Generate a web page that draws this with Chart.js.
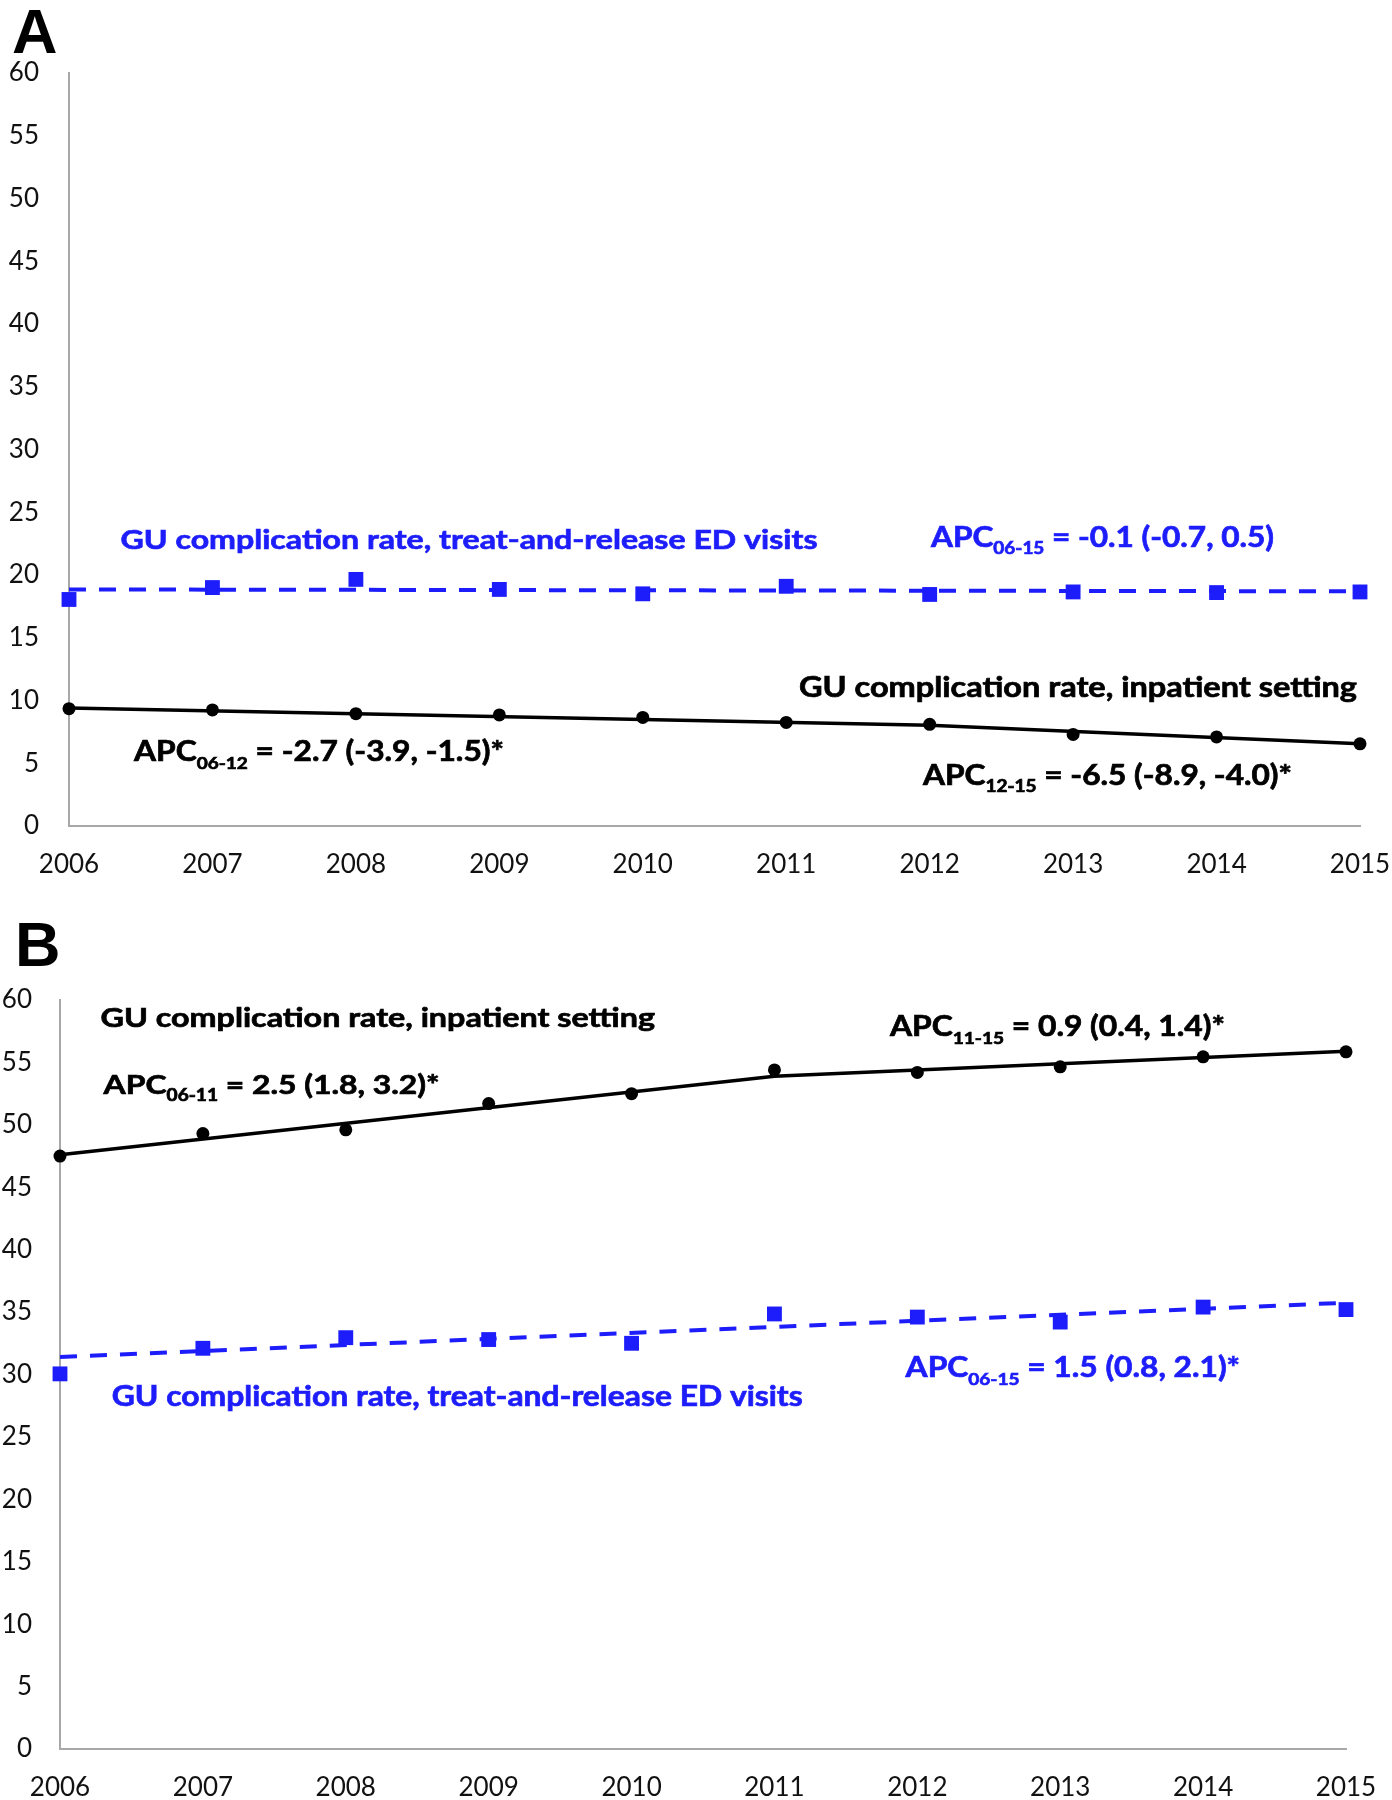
<!DOCTYPE html>
<html><head><meta charset="utf-8">
<script src="https://cdn.jsdelivr.net/npm/chart.js@4.4.1/dist/chart.umd.min.js"></script>
<style>
html,body{margin:0;padding:0;background:#fff;}
#wrap{position:relative;width:1392px;height:1800px;overflow:hidden;background:#fff;}
.box{position:absolute;left:0;width:1392px;height:900px;}
</style></head><body>
<div id="wrap">
<div class="box" style="top:0"><canvas id="cA"></canvas></div>
<div class="box" style="top:900px"><canvas id="cB"></canvas></div>
</div>
<script>
// ---------- data ----------
const years = ['2006','2007','2008','2009','2010','2011','2012','2013','2014','2015'];
const yTicks = [0,5,10,15,20,25,30,35,40,45,50,55,60];

// Panel A
const aEDRate        = [18.05, 19.0, 19.65, 18.85, 18.5, 19.1, 18.45, 18.65, 18.6, 18.65];
const aEDTrend       = [18.85, null, null, null, null, null, null, null, null, 18.7];
const aInpatientRate = [9.35, 9.25, 8.95, 8.85, 8.65, 8.25, 8.1, 7.3, 7.1, 6.55];
const aInpatientTrend= [9.4, null, null, null, null, null, 8.03, null, null, 6.55];

// Panel B
const bEDRate        = [30.05, 32.1, 32.95, 32.8, 32.5, 34.85, 34.6, 34.2, 35.4, 35.2];
const bEDTrend       = [31.4, null, null, null, null, null, null, null, null, 35.75];
const bInpatientRate = [47.5, 49.3, 49.6, 51.7, 52.5, 54.4, 54.2, 54.65, 55.45, 55.85];
const bInpatientTrend= [47.6, null, null, null, null, 53.9, null, null, null, 55.9];

// ---------- styles ----------
const BLUE = '#1d1dfb';
const BLACK = '#000000';
const AXIS = '#a8a8a8';
const TICK_FONT = {family:'Lato', size:26};
const SUB = 0.6, CAP = 0.717;

const notesPlugin = {
  id:'notes',
  afterDraw(chart, args, opts){
    const ctx = chart.ctx;
    ctx.save();
    ctx.textBaseline = 'alphabetic';
    ctx.textAlign = 'left';
    (opts.items||[]).forEach(it => {
      const fam = it.family || 'Lato';
      const capH = it.cap || CAP;
      const size = it.capPx ? it.capPx / capH : it.size;
      let w = 0;
      it.parts.forEach(p => {
        ctx.font = `bold ${p[1] ? size*SUB : size}px "${fam}"`;
        w += ctx.measureText(p[0]).width;
      });
      const sx = it.w ? it.w / w : 1;
      const baseline = it.y + size*capH/2;
      ctx.save();
      ctx.translate(it.x, 0);
      ctx.scale(sx, 1);
      let x = 0;
      ctx.fillStyle = it.color;
      ctx.strokeStyle = it.color;
      ctx.lineWidth = it.stroke || 0;
      it.parts.forEach(p => {
        const s = p[1] ? size*SUB : size;
        ctx.font = `bold ${s}px "${fam}"`;
        const yy = p[1] ? baseline + size*0.26 : baseline;
        ctx.fillText(p[0], x, yy);
        if (it.stroke) ctx.strokeText(p[0], x, yy);
        x += ctx.measureText(p[0]).width;
      });
      ctx.restore();
    });
    ctx.restore();
  }
};

function makeChart(id, cfg){
  const ds = [
    {data: cfg.ed, showLine:false, pointStyle:'rect', pointRadius:10.5, pointBackgroundColor:BLUE, pointBorderWidth:0, borderColor:BLUE, clip:false},
    {data: cfg.inp, showLine:false, pointStyle:'circle', pointRadius:6.5, pointBackgroundColor:BLACK, pointBorderWidth:0, borderColor:BLACK, clip:false},
    {data: cfg.edTrend, spanGaps:true, pointRadius:0, borderColor:BLUE, borderWidth:4, borderDash:[17,13], tension:0, clip:false},
    {data: cfg.inpTrend, spanGaps:true, pointRadius:0, borderColor:BLACK, borderWidth:3.5, tension:0, clip:false}
  ];
  return new Chart(document.getElementById(id), {
    type:'line',
    data:{labels: years, datasets: ds},
    options:{
      responsive:true, maintainAspectRatio:false, animation:false, events:[],
      layout:{padding:{top:cfg.top, right:cfg.right, left:0, bottom:0}},
      plugins:{legend:{display:false}, tooltip:{enabled:false}, notes:{items:cfg.notes}},
      scales:{
        x:{type:'category', offset:false,
           grid:{display:false, drawTicks:false},
           border:{display:true, color:AXIS, width:2},
           ticks:{font:TICK_FONT, color:'#111', padding:23, maxRotation:0, autoSkip:false},
           afterFit(s){ s.height = cfg.xh; s.paddingLeft = 0; s.paddingRight = 0; }},
        y:{min:0, max:60,
           grid:{display:false, drawTicks:false},
           border:{display:true, color:AXIS, width:2},
           ticks:{font:TICK_FONT, color:'#111', padding:cfg.ypad},
           afterBuildTicks(s){ s.ticks = yTicks.map(v => ({value:v})); },
           afterFit(s){ s.width = cfg.yw; s.paddingTop = 0; s.paddingBottom = 0; }}
      }
    },
    plugins:[notesPlugin]
  });
}

makeChart('cA', {
  ed:aEDRate, edTrend:aEDTrend, inp:aInpatientRate, inpTrend:aInpatientTrend,
  top:73, right:32, xh:74, yw:69, ypad:30,
  notes:[
    {x:12, y:30, size:63, family:'Liberation Sans', cap:0.716, color:'#000', parts:[['A',0]]},
    {x:120.5, y:539, w:697, capPx:19.5, stroke:0.7, color:BLUE, parts:[['GU complication rate, treat-and-release ED visits',0]]},
    {x:931, y:537, w:343, capPx:20, stroke:0.7, color:BLUE, parts:[['APC',0],['06-15',1],[' = -0.1 (-0.7, 0.5)',0]]},
    {x:799, y:687, w:558, capPx:20, stroke:0.7, color:BLACK, parts:[['GU complication rate, inpatient setting',0]]},
    {x:134, y:751, w:370, capPx:20.5, stroke:0.7, color:BLACK, parts:[['APC',0],['06-12',1],[' = -2.7 (-3.9, -1.5)*',0]]},
    {x:923, y:775, w:369, capPx:20, stroke:0.7, color:BLACK, parts:[['APC',0],['12-15',1],[' = -6.5 (-8.9, -4.0)*',0]]}
  ]
});

makeChart('cB', {
  ed:bEDRate, edTrend:bEDTrend, inp:bInpatientRate, inpTrend:bInpatientTrend,
  top:100, right:46, xh:51, yw:60, ypad:28,
  notes:[
    {x:15, y:43, size:63, family:'Liberation Sans', cap:0.716, color:'#000', parts:[['B',0]]},
    {x:100.5, y:117, w:554.5, capPx:19.5, stroke:0.7, color:BLACK, parts:[['GU complication rate, inpatient setting',0]]},
    {x:103.6, y:184, w:336, capPx:19.5, stroke:0.7, color:BLACK, parts:[['APC',0],['06-11',1],[' = 2.5 (1.8, 3.2)*',0]]},
    {x:890, y:126, w:335, capPx:20.5, stroke:0.7, color:BLACK, parts:[['APC',0],['11-15',1],[' = 0.9 (0.4, 1.4)*',0]]},
    {x:111.7, y:496, w:691, capPx:20, stroke:0.7, color:BLUE, parts:[['GU complication rate, treat-and-release ED visits',0]]},
    {x:905.6, y:467, w:334.5, capPx:20.5, stroke:0.7, color:BLUE, parts:[['APC',0],['06-15',1],[' = 1.5 (0.8, 2.1)*',0]]}
  ]
});
</script>
</body></html>
